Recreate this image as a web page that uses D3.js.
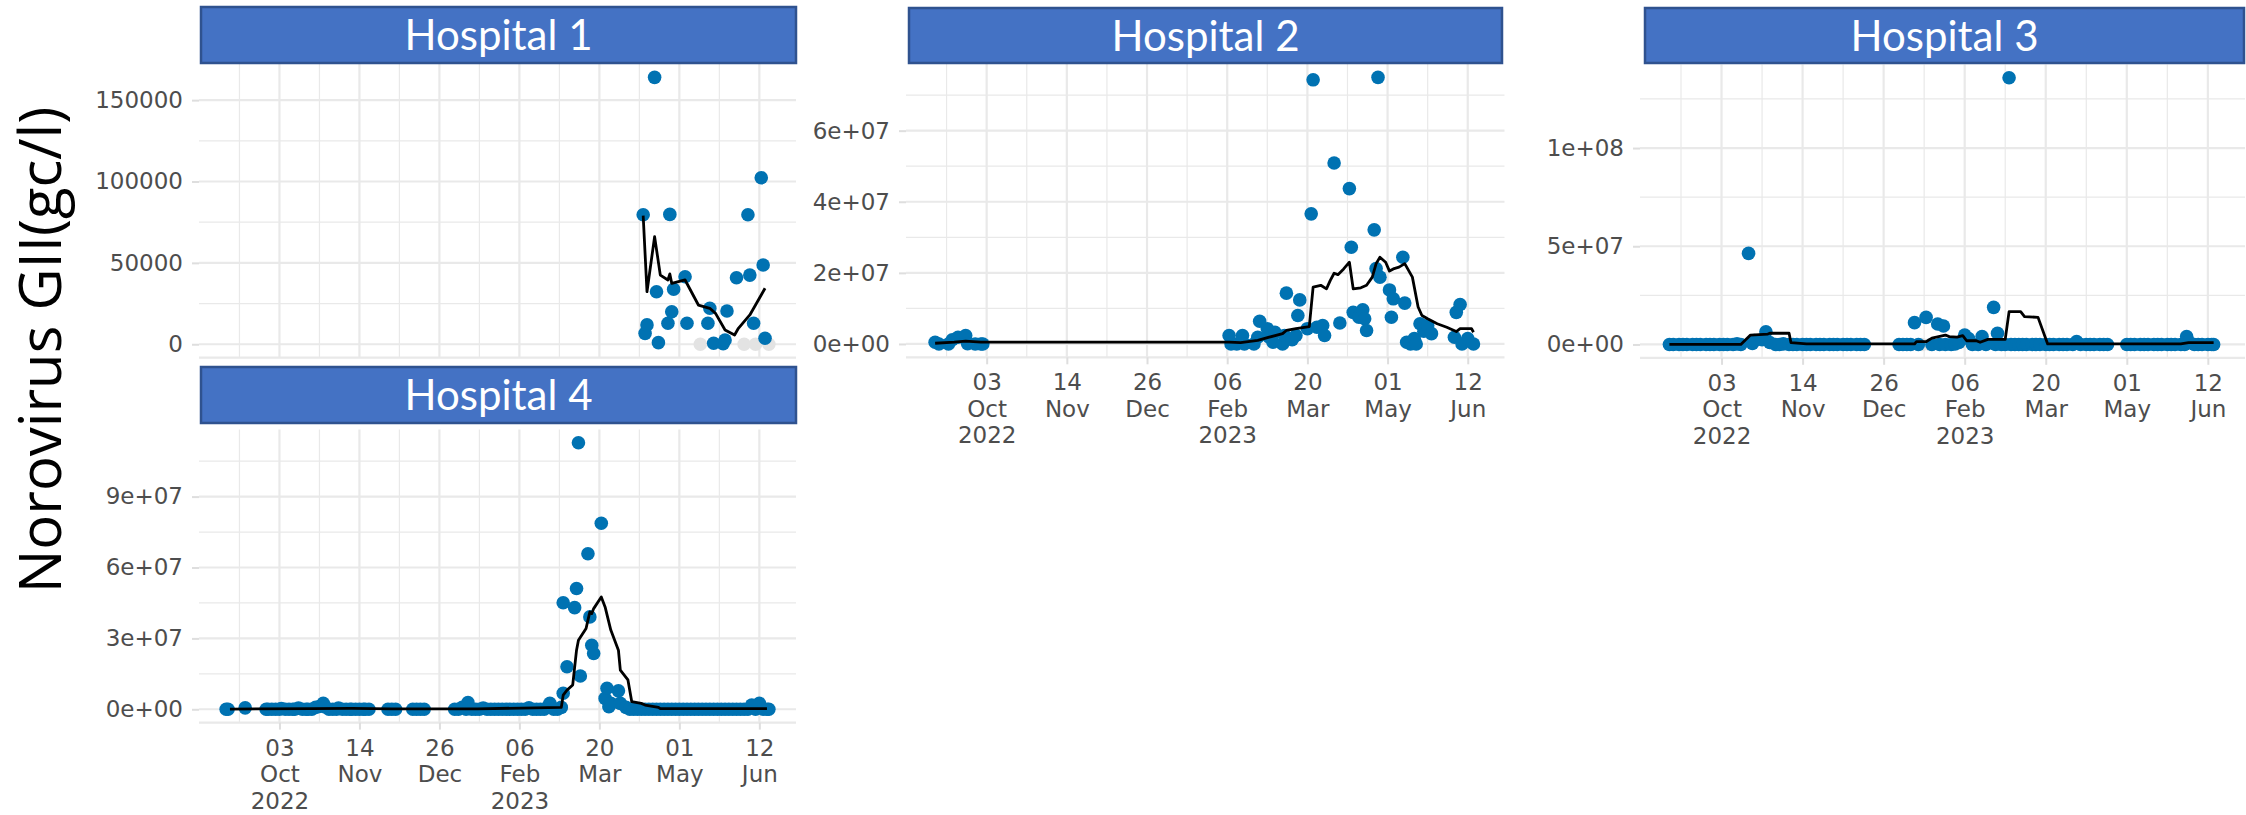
<!DOCTYPE html>
<html>
<head>
<meta charset="utf-8">
<script src="https://cdn.jsdelivr.net/npm/d3@7"></script>
<style>
  html, body { margin: 0; padding: 0; background: #ffffff; }
  svg { display: block; }
</style>
</head>
<body>
<svg id="chart" width="2246" height="815"></svg>
<script>
// ---------------------------------------------------------------------------
// Data: Norovirus GII concentration (gc/l) in hospital wastewater, 2022-2023
// ---------------------------------------------------------------------------
const hospitalNames = ["Hospital 1", "Hospital 2", "Hospital 3", "Hospital 4"];
const yAxisTitle = "Norovirus GII(gc/l)";

// shared date axis
const xTickDates  = ["2022-10-03", "2022-11-14", "2022-12-26", "2023-02-06", "2023-03-20", "2023-05-01", "2023-06-12"];
const xTickDays   = ["03", "14", "26", "06", "20", "01", "12"];
const xTickMonths = ["Oct", "Nov", "Dec", "Feb", "Mar", "May", "Jun"];
const xTickYears  = ["2022", "", "", "2023", "", "", ""];

// Hospital 1
const h1YTicks = [0, 50000, 100000, 150000];
const h1YTickLabels = ["0", "50000", "100000", "150000"];
const h1PointDates = ["2023-04-12", "2023-04-13", "2023-04-14", "2023-04-18", "2023-04-19", "2023-04-20", "2023-04-25",
  "2023-04-26", "2023-04-27", "2023-04-28", "2023-05-04", "2023-05-05", "2023-05-16", "2023-05-17", "2023-05-19",
  "2023-05-24", "2023-05-25", "2023-05-26", "2023-05-31", "2023-06-06", "2023-06-07", "2023-06-09", "2023-06-13",
  "2023-06-14", "2023-06-15"];
const h1PointValues = [79600, 6700, 11900, 164000, 32300, 1000, 12900,
  79800, 20000, 33800, 41500, 12900, 12900, 22100, 600,
  300, 2600, 20400, 40900, 79600, 42500, 12900, 102300,
  48700, 3700];
const h1BelowLodDates = ["2023-05-12", "2023-06-04", "2023-06-10", "2023-06-17"];
const h1BelowLodValues = [0, 0, 0, 0];
const h1TrendDates = ["2023-04-12", "2023-04-14", "2023-04-18", "2023-04-21", "2023-04-25", "2023-04-26", "2023-04-27",
  "2023-05-04", "2023-05-11", "2023-05-17", "2023-05-20", "2023-05-25", "2023-05-30", "2023-06-01", "2023-06-07",
  "2023-06-15"];
const h1TrendValues = [79000, 32300, 66100, 42500, 39500, 43200, 37400,
  39500, 24100, 22100, 19000, 8800, 5700, 9800, 18000,
  34400];

// Hospital 2
const h2YTicks = [0, 2e7, 4e7, 6e7];
const h2YTickLabels = ["0e+00", "2e+07", "4e+07", "6e+07"];
const h2PointDates = ["2022-09-06", "2022-09-08", "2022-09-13", "2022-09-15", "2022-09-18", "2022-09-22", "2022-09-23",
  "2022-09-27", "2022-09-30", "2022-10-01",
  "2023-02-07", "2023-02-08", "2023-02-11", "2023-02-14", "2023-02-15", "2023-02-20", "2023-02-22", "2023-02-23",
  "2023-02-27", "2023-02-28", "2023-03-02", "2023-03-03", "2023-03-07", "2023-03-08", "2023-03-09", "2023-03-12",
  "2023-03-14", "2023-03-15", "2023-03-16", "2023-03-20", "2023-03-22", "2023-03-23", "2023-03-25", "2023-03-28",
  "2023-03-29", "2023-04-03", "2023-04-06", "2023-04-11", "2023-04-12", "2023-04-13", "2023-04-16", "2023-04-18",
  "2023-04-19", "2023-04-20", "2023-04-24", "2023-04-25", "2023-04-26", "2023-04-27", "2023-05-02", "2023-05-03",
  "2023-05-04", "2023-05-09", "2023-05-10", "2023-05-11", "2023-05-13", "2023-05-15", "2023-05-16", "2023-05-18",
  "2023-05-20", "2023-05-22", "2023-05-24", "2023-06-05", "2023-06-06", "2023-06-08", "2023-06-09", "2023-06-12",
  "2023-06-15"];
const h2PointValues = [5e5, 0, 0, 1.2e6, 1.9e6, 2.4e6, 1e5,
  0, 0, 0,
  2.4e6, 0, 0, 2.4e6, 0, 0, 1.9e6, 6.4e6,
  4.3e6, 1.9e6, 5e5, 3.3e6, 0, 2.4e6, 1.43e7, 1.2e6,
  2.4e6, 8.0e6, 1.24e7, 4.3e6, 3.66e7, 7.43e7, 4.7e6, 5.2e6,
  2.4e6, 5.09e7, 5.9e6, 4.37e7, 2.72e7, 8.9e6, 7.5e6, 9.6e6,
  7.1e6, 3.8e6, 3.21e7, 2.12e7, 7.5e7, 1.88e7, 1.52e7, 7.5e6,
  1.27e7, 2.44e7, 1.15e7, 5e5, 0, 1.5e6, 0, 5.7e6,
  3.6e6, 5.2e6, 2.9e6, 1.9e6, 8.9e6, 1.11e7, 0, 1.5e6,
  0];
const h2BelowLodDates = [];
const h2BelowLodValues = [];
const h2TrendDates = ["2022-09-06", "2022-09-16", "2022-09-22", "2022-09-30", "2023-02-07", "2023-02-13", "2023-02-22",
  "2023-02-28", "2023-03-07", "2023-03-09", "2023-03-14", "2023-03-21", "2023-03-23", "2023-03-27", "2023-03-30",
  "2023-04-01", "2023-04-03", "2023-04-05", "2023-04-08", "2023-04-11", "2023-04-13", "2023-04-17", "2023-04-20",
  "2023-04-23", "2023-04-25", "2023-04-27", "2023-04-30", "2023-05-02", "2023-05-04", "2023-05-07", "2023-05-10",
  "2023-05-14", "2023-05-17", "2023-05-19", "2023-05-22", "2023-05-27", "2023-06-01", "2023-06-06", "2023-06-08",
  "2023-06-14", "2023-06-15"];
const h2TrendValues = [2e5, 5e5, 8e5, 5e5, 5e5, 4e5, 1.0e6,
  1.9e6, 2.9e6, 3.8e6, 4.3e6, 4.9e6, 1.6e7, 1.65e7, 1.55e7,
  1.79e7, 1.99e7, 1.95e7, 2.11e7, 2.30e7, 1.55e7, 1.58e7, 1.65e7,
  1.88e7, 2.26e7, 2.44e7, 2.30e7, 2.05e7, 2.11e7, 2.16e7, 2.26e7,
  1.88e7, 1.04e7, 8.0e6, 7.1e6, 5.7e6, 4.7e6, 3.5e6, 4.3e6,
  4.3e6, 3.3e6];

// Hospital 3
const h3YTicks = [0, 5e7, 1e8];
const h3YTickLabels = ["0e+00", "5e+07", "1e+08"];
const h3PointDates = ["2022-09-06", "2022-09-08", "2022-09-11", "2022-09-13", "2022-09-15", "2022-09-18", "2022-09-20",
  "2022-09-22", "2022-09-25", "2022-09-27", "2022-09-29", "2022-10-02", "2022-10-04", "2022-10-06", "2022-10-09",
  "2022-10-11", "2022-10-13", "2022-10-17", "2022-10-19", "2022-10-20", "2022-10-24", "2022-10-26", "2022-10-28",
  "2022-10-31", "2022-11-02", "2022-11-04", "2022-11-07", "2022-11-09", "2022-11-11", "2022-11-14", "2022-11-16",
  "2022-11-18", "2022-11-21", "2022-11-23", "2022-11-25", "2022-11-28", "2022-11-30", "2022-12-02", "2022-12-05",
  "2022-12-07", "2022-12-09", "2022-12-12", "2022-12-14", "2022-12-16",
  "2023-01-03", "2023-01-05", "2023-01-07", "2023-01-09", "2023-01-11", "2023-01-13", "2023-01-17", "2023-01-20",
  "2023-01-23", "2023-01-24", "2023-01-26", "2023-01-27", "2023-01-30", "2023-02-01", "2023-02-03", "2023-02-06",
  "2023-02-08", "2023-02-10", "2023-02-13", "2023-02-15", "2023-02-17", "2023-02-21", "2023-02-22", "2023-02-23",
  "2023-02-25", "2023-02-27", "2023-03-01", "2023-03-02", "2023-03-04", "2023-03-06", "2023-03-08", "2023-03-10",
  "2023-03-13", "2023-03-15", "2023-03-17", "2023-03-20", "2023-03-22", "2023-03-24", "2023-03-27", "2023-03-29",
  "2023-03-31", "2023-04-03", "2023-04-05", "2023-04-07", "2023-04-10", "2023-04-12", "2023-04-14", "2023-04-17",
  "2023-04-19", "2023-04-21", "2023-05-01", "2023-05-03", "2023-05-05", "2023-05-08", "2023-05-10", "2023-05-12",
  "2023-05-15", "2023-05-17", "2023-05-19", "2023-05-22", "2023-05-24", "2023-05-26", "2023-05-29", "2023-05-31",
  "2023-06-01", "2023-06-02", "2023-06-05", "2023-06-07", "2023-06-09", "2023-06-12", "2023-06-14", "2023-06-15"];
const h3PointValues = [0, 0, 0, 0, 0, 0, 0,
  0, 0, 0, 0, 0, 0, 0, 0,
  3e5, 0, 4.64e7, 5e5, 2.0e6, 2.4e6, 6.5e6, 1.0e6,
  0, 0, 3e5, 0, 0, 0, 0, 0,
  0, 0, 0, 0, 0, 0, 0, 0,
  0, 0, 0, 0, 0,
  0, 0, 0, 0, 1.11e7, 0, 1.38e7, 0,
  1.04e7, 0, 9.4e6, 0, 0, 3e5, 1.0e6, 4.8e6,
  3.0e6, 0, 0, 4.0e6, 0, 1.89e7, 0, 5.7e6,
  0, 0, 1.358e8, 0, 0, 0, 0, 0,
  0, 0, 0, 0, 0, 0, 0, 0,
  0, 0, 1.5e6, 0, 0, 0, 0, 0,
  0, 0, 0, 0, 0, 0, 0, 0,
  0, 0, 0, 0, 0, 0, 0, 0,
  4.0e6, 1.5e6, 0, 0, 0, 0, 0, 0];
const h3BelowLodDates = ["2022-09-30", "2022-10-08", "2023-01-15", "2023-01-19"];
const h3BelowLodValues = [0, 0, 0, 0];
const h3TrendDates = ["2022-09-06", "2022-10-13", "2022-10-18", "2022-10-27", "2022-10-28", "2022-11-07", "2022-11-08",
  "2022-11-16", "2023-01-11", "2023-01-12", "2023-01-17", "2023-01-20", "2023-01-27", "2023-01-29", "2023-02-02",
  "2023-02-05", "2023-02-07", "2023-02-12", "2023-02-14", "2023-02-18", "2023-02-27", "2023-03-01", "2023-03-07",
  "2023-03-09", "2023-03-16", "2023-03-21", "2023-05-29", "2023-06-02", "2023-06-15"];
const h3TrendValues = [0, 0, 4.8e6, 5.3e6, 5.7e6, 5.7e6, 9e5,
  2.5e5, 2.5e5, 1.4e6, 1.4e6, 3.2e6, 4.8e6, 4.0e6, 3.7e6,
  4.5e6, 1.9e6, 1.9e6, 1.1e6, 2.6e6, 2.6e6, 1.67e7, 1.67e7,
  1.42e7, 1.38e7, 2.5e5, 2.5e5, 9e5, 9e5];

// Hospital 4
const h4YTicks = [0, 3e7, 6e7, 9e7];
const h4YTickLabels = ["0e+00", "3e+07", "6e+07", "9e+07"];
const h4PointDates = ["2022-09-05", "2022-09-06", "2022-09-15", "2022-09-26", "2022-09-27", "2022-09-29", "2022-10-01",
  "2022-10-03", "2022-10-04", "2022-10-06", "2022-10-08", "2022-10-10", "2022-10-11", "2022-10-13", "2022-10-15",
  "2022-10-17", "2022-10-18", "2022-10-20", "2022-10-22", "2022-10-24", "2022-10-26", "2022-10-27", "2022-10-29",
  "2022-10-31", "2022-11-02", "2022-11-03", "2022-11-05", "2022-11-07", "2022-11-09", "2022-11-10", "2022-11-12",
  "2022-11-14", "2022-11-16", "2022-11-17", "2022-11-19", "2022-11-29", "2022-12-01", "2022-12-03", "2022-12-12",
  "2022-12-14", "2022-12-16", "2022-12-18", "2023-01-03", "2023-01-05", "2023-01-07", "2023-01-09", "2023-01-10",
  "2023-01-12", "2023-01-14", "2023-01-16", "2023-01-18", "2023-01-20", "2023-01-22", "2023-01-24", "2023-01-26",
  "2023-01-28", "2023-01-30", "2023-02-01", "2023-02-03", "2023-02-05", "2023-02-07", "2023-02-09", "2023-02-11",
  "2023-02-13", "2023-02-15", "2023-02-17", "2023-02-19", "2023-02-21", "2023-02-22", "2023-02-24", "2023-02-26",
  "2023-02-28", "2023-03-01", "2023-03-01", "2023-03-03", "2023-03-07", "2023-03-08", "2023-03-09", "2023-03-10",
  "2023-03-14", "2023-03-15", "2023-03-16", "2023-03-17", "2023-03-21", "2023-03-23", "2023-03-24", "2023-03-25",
  "2023-03-26", "2023-03-30", "2023-03-31", "2023-04-03", "2023-04-05", "2023-04-07", "2023-04-09", "2023-04-11",
  "2023-04-13", "2023-04-15", "2023-04-17", "2023-04-19", "2023-04-21", "2023-04-23", "2023-04-25", "2023-04-27",
  "2023-04-29", "2023-05-01", "2023-05-03", "2023-05-05", "2023-05-07", "2023-05-09", "2023-05-11", "2023-05-13",
  "2023-05-15", "2023-05-17", "2023-05-19", "2023-05-21", "2023-05-23", "2023-05-25", "2023-05-27", "2023-05-29",
  "2023-05-31", "2023-06-02", "2023-06-04", "2023-06-06", "2023-06-08", "2023-06-10", "2023-06-12", "2023-06-14",
  "2023-06-16", "2023-06-17"];
const h4PointValues = [0, 0, 6e5, 0, 0, 0, 0,
  0, 3e5, 0, 0, 0, 0, 5e5, 0,
  0, 0, 0, 8e5, 1.2e6, 2.5e6, 1.0e6, 0,
  0, 0, 5e5, 0, 0, 0, 0, 0,
  0, 0, 0, 0, 0, 0, 0, 0,
  0, 0, 0, 0, 0, 8e5, 0, 2.8e6,
  0, 0, 0, 5e5, 0, 0, 0, 0,
  0, 0, 0, 0, 0, 0, 0, 6e5,
  0, 0, 0, 0, 1.0e6, 2.5e6, 0, 0,
  8e5, 4.51e7, 6.8e6, 1.80e7, 4.30e7, 5.11e7, 1.128e8, 1.41e7,
  6.58e7, 3.91e7, 2.71e7, 2.36e7, 7.87e7, 4.6e6, 8.9e6, 1.1e6,
  2.5e6, 7.8e6, 2.5e6, 8e5, 0, 0, 0, 0,
  0, 0, 0, 0, 0, 0, 0, 0,
  0, 0, 0, 0, 0, 0, 0, 0,
  0, 0, 0, 0, 0, 0, 0, 0,
  0, 0, 0, 0, 1.8e6, 0, 2.5e6, 0,
  0, 0];
const h4BelowLodDates = [];
const h4BelowLodValues = [];
const h4TrendDates = ["2022-09-07", "2022-10-20", "2022-11-10", "2022-12-01", "2023-01-15", "2023-02-28", "2023-03-01",
  "2023-03-03", "2023-03-06", "2023-03-08", "2023-03-09", "2023-03-13", "2023-03-14", "2023-03-15", "2023-03-16",
  "2023-03-17", "2023-03-21", "2023-03-23", "2023-03-26", "2023-03-30", "2023-03-31", "2023-04-04", "2023-04-06",
  "2023-04-11", "2023-04-13", "2023-04-20", "2023-04-21", "2023-06-16"];
const h4TrendValues = [1e5, 3e5, 4e5, 2e5, 2e5, 8e5, 6.0e6,
  8.1e6, 1.03e7, 2.5e7, 2.92e7, 3.42e7, 3.77e7, 4.12e7, 4.05e7,
  4.26e7, 4.75e7, 4.33e7, 3.35e7, 2.5e7, 1.66e7, 1.24e7, 3.2e6,
  2.5e6, 1.8e6, 8e5, 2.5e5, 2.5e5];

// ---------------------------------------------------------------------------
// Layout and styling
// ---------------------------------------------------------------------------
const parseDate = d3.timeParse("%Y-%m-%d");
const toSeries = (dates, values) => dates.map((d, i) => ({ date: parseDate(d), value: values[i] }));

const COLORS = {
  point: "#0072B2",
  belowLod: "#e3e3e3",
  trend: "#000000",
  grid: "#e9e9e9",
  tick: "#dedede",
  tickText: "#4d4d4d",
  stripFill: "#4472C4",
  stripStroke: "#2F528F"
};
const POINT_R = 6.8;
const TICK_FONT = "23px";

const panels = [
  { name: hospitalNames[0], points: toSeries(h1PointDates, h1PointValues), lod: toSeries(h1BelowLodDates, h1BelowLodValues),
    trend: toSeries(h1TrendDates, h1TrendValues), yTicks: h1YTicks, yLabels: h1YTickLabels,
    plot: { x0: 199, x1: 796, y0: 64, y1: 357.6 }, strip: { x0: 201, x1: 796, y0: 7, y1: 63 }, showX: false },
  { name: hospitalNames[1], points: toSeries(h2PointDates, h2PointValues), lod: toSeries(h2BelowLodDates, h2BelowLodValues),
    trend: toSeries(h2TrendDates, h2TrendValues), yTicks: h2YTicks, yLabels: h2YTickLabels,
    plot: { x0: 906, x1: 1504.5, y0: 64, y1: 357.3 }, strip: { x0: 909, x1: 1502, y0: 8, y1: 63 }, showX: true },
  { name: hospitalNames[2], points: toSeries(h3PointDates, h3PointValues), lod: toSeries(h3BelowLodDates, h3BelowLodValues),
    trend: toSeries(h3TrendDates, h3TrendValues), yTicks: h3YTicks, yLabels: h3YTickLabels,
    plot: { x0: 1640, x1: 2245, y0: 64.4, y1: 357.8 }, strip: { x0: 1645, x1: 2244, y0: 8, y1: 63 }, showX: true },
  { name: hospitalNames[3], points: toSeries(h4PointDates, h4PointValues), lod: toSeries(h4BelowLodDates, h4BelowLodValues),
    trend: toSeries(h4TrendDates, h4TrendValues), yTicks: h4YTicks, yLabels: h4YTickLabels,
    plot: { x0: 199, x1: 796, y0: 429.4, y1: 722.6 }, strip: { x0: 201, x1: 796, y0: 367, y1: 423 }, showX: true }
];

// shared x range, expanded by 5% on each side
const allDates = panels.flatMap(p => [...p.points, ...p.lod, ...p.trend].map(d => d.date));
const [dMin, dMax] = d3.extent(allDates);
const dPad = (dMax - dMin) * 0.05;
const xDomain = [new Date(+dMin - dPad), new Date(+dMax + dPad)];
const xMajor = xTickDates.map(parseDate);
const xStep = xMajor[1] - xMajor[0];
const xMinor = [new Date(+xMajor[0] - xStep / 2),
  ...xMajor.slice(0, -1).map((d, i) => new Date((+d + +xMajor[i + 1]) / 2)),
  new Date(+xMajor[xMajor.length - 1] + xStep / 2)];

const svg = d3.select("#chart");

// y-axis title
svg.append("text")
  .attr("transform", "translate(61,350) rotate(-90)")
  .attr("text-anchor", "middle")
  .style("font-family", "'Open Sans', sans-serif")
  .style("font-size", "58px")
  .style("fill", "#000")
  .text(yAxisTitle);

panels.forEach(p => {
  const g = svg.append("g");
  const x = d3.scaleTime().domain(xDomain).range([p.plot.x0, p.plot.x1]);

  const vals = [...p.points, ...p.lod, ...p.trend].map(d => d.value);
  const vMin = Math.min(0, d3.min(vals)), vMax = d3.max(vals);
  const vPad = (vMax - vMin) * 0.05;
  const y = d3.scaleLinear().domain([vMin - vPad, vMax + vPad]).range([p.plot.y1, p.plot.y0]);
  const [yLo, yHi] = y.domain();

  const yStep = p.yTicks[1] - p.yTicks[0];
  const yMinor = [p.yTicks[0] - yStep / 2, ...p.yTicks.map(t => t + yStep / 2)]
    .filter(v => v >= yLo && v <= yHi);

  // minor grid
  g.selectAll(".hminor").data(yMinor).join("line")
    .attr("x1", p.plot.x0).attr("x2", p.plot.x1)
    .attr("y1", d => y(d)).attr("y2", d => y(d))
    .attr("stroke", COLORS.grid).attr("stroke-width", 1.2);
  g.selectAll(".vminor").data(xMinor.filter(d => d >= xDomain[0] && d <= xDomain[1])).join("line")
    .attr("x1", d => x(d)).attr("x2", d => x(d))
    .attr("y1", p.plot.y0).attr("y2", p.plot.y1)
    .attr("stroke", COLORS.grid).attr("stroke-width", 1.2);

  // major grid
  g.selectAll(".hmajor").data(p.yTicks).join("line")
    .attr("x1", p.plot.x0).attr("x2", p.plot.x1)
    .attr("y1", d => y(d)).attr("y2", d => y(d))
    .attr("stroke", COLORS.grid).attr("stroke-width", 2.2);
  g.selectAll(".vmajor").data(xMajor).join("line")
    .attr("x1", d => x(d)).attr("x2", d => x(d))
    .attr("y1", p.plot.y0).attr("y2", p.plot.y1)
    .attr("stroke", COLORS.grid).attr("stroke-width", 2.2);

  // lower panel edge
  g.append("line")
    .attr("x1", p.plot.x0).attr("x2", p.plot.x1)
    .attr("y1", y(yLo)).attr("y2", y(yLo))
    .attr("stroke", COLORS.grid).attr("stroke-width", 2.2);

  // y axis
  const yAxis = d3.axisLeft(y).tickValues(p.yTicks)
    .tickFormat((d, i) => p.yLabels[i]).tickSize(7).tickPadding(9);
  const ya = g.append("g").attr("transform", `translate(${p.plot.x0},0)`).call(yAxis);
  ya.select(".domain").remove();
  ya.selectAll(".tick line").attr("stroke", COLORS.tick).attr("stroke-width", 2);
  ya.selectAll(".tick text")
    .style("font-family", "'DejaVu Sans', sans-serif")
    .style("font-size", TICK_FONT)
    .style("fill", COLORS.tickText);

  // x axis (bottom panels only)
  if (p.showX) {
    const xAxis = d3.axisBottom(x).tickValues(xMajor).tickFormat("").tickSize(7);
    const xa = g.append("g").attr("transform", `translate(0,${p.plot.y1})`).call(xAxis);
    xa.select(".domain").remove();
    xa.selectAll(".tick line").attr("stroke", COLORS.tick).attr("stroke-width", 2);
    const lab = xa.selectAll(".tick").append("text")
      .attr("text-anchor", "middle")
      .style("font-family", "'DejaVu Sans', sans-serif")
      .style("font-size", TICK_FONT)
      .style("fill", COLORS.tickText);
    lab.each(function (d, i) {
      const t = d3.select(this);
      [xTickDays[i], xTickMonths[i], xTickYears[i]].filter(s => s).forEach((s, k) => {
        t.append("tspan").attr("x", 0).attr("y", 33 + k * 26.5).text(s);
      });
    });
  }

  // clip to plot area
  const clipId = "clip-" + p.name.replace(/\s+/g, "");
  svg.append("clipPath").attr("id", clipId).append("rect")
    .attr("x", p.plot.x0 - 8).attr("y", p.plot.y0 - 8)
    .attr("width", p.plot.x1 - p.plot.x0 + 16).attr("height", p.plot.y1 - p.plot.y0 + 16);
  const marks = g.append("g").attr("clip-path", `url(#${clipId})`);

  marks.selectAll(".lod").data(p.lod).join("circle")
    .attr("cx", d => x(d.date)).attr("cy", d => y(d.value)).attr("r", POINT_R)
    .attr("fill", COLORS.belowLod);
  marks.selectAll(".pt").data(p.points).join("circle")
    .attr("cx", d => x(d.date)).attr("cy", d => y(d.value)).attr("r", POINT_R)
    .attr("fill", COLORS.point);
  marks.append("path").datum(p.trend)
    .attr("d", d3.line().x(d => x(d.date)).y(d => y(d.value)))
    .attr("fill", "none").attr("stroke", COLORS.trend)
    .attr("stroke-width", 2.8).attr("stroke-linejoin", "round");

  // facet header
  g.append("rect")
    .attr("x", p.strip.x0).attr("y", p.strip.y0)
    .attr("width", p.strip.x1 - p.strip.x0).attr("height", p.strip.y1 - p.strip.y0)
    .attr("fill", COLORS.stripFill).attr("stroke", COLORS.stripStroke).attr("stroke-width", 2.5);
  g.append("text")
    .attr("x", (p.strip.x0 + p.strip.x1) / 2).attr("y", p.strip.y0 + 43)
    .attr("text-anchor", "middle")
    .style("font-family", "Lato, 'Open Sans', sans-serif")
    .style("font-size", "42px")
    .style("fill", "#ffffff")
    .text(p.name);
});
</script>
</body>
</html>
